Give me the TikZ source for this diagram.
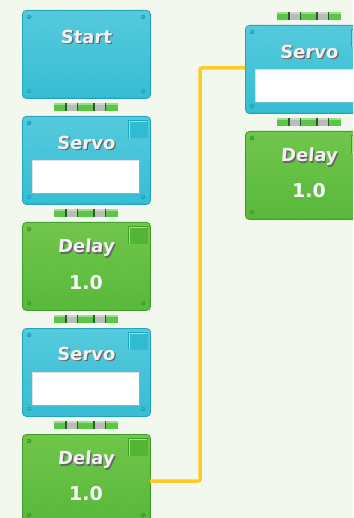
\documentclass[tikz,border=0pt]{standalone}
\usepackage{fontspec}
\newfontfamily\blockfont[FakeSlant=0.08]{DejaVu Sans Bold}
\newfontfamily\numfont{DejaVu Sans Bold}
\usetikzlibrary{calc,patterns}
\definecolor{bg}{HTML}{F3F8EE}
\definecolor{cyM}{HTML}{2FBBD2}
\definecolor{cyL}{HTML}{4EC8DC}
\definecolor{cyD}{HTML}{1FA6BC}
\definecolor{grM}{HTML}{52B634}
\definecolor{grL}{HTML}{6CC444}
\definecolor{grD}{HTML}{3E9E26}
\definecolor{wire}{HTML}{FFC928}
\definecolor{cnG}{HTML}{5CC548}
\definecolor{cnD}{HTML}{2A5A2A}
\definecolor{cnS}{HTML}{B9BDB8}
\tikzset{
  blk/.style={draw=#1D, line width=0.9pt, rounded corners=4pt, top color=#1L, bottom color=#1M,
    minimum width=128pt, minimum height=88pt, anchor=north west, inner sep=0pt},
  conn/.style={minimum width=64pt, minimum height=8pt, inner sep=0pt, fill=cnG, draw=none},
  wireline/.style={draw=wire, line width=3.5pt, rounded corners=2pt},
  lbl/.style={font=\blockfont\fontsize{18}{18}\selectfont, text=white!90!gray, inner sep=0pt},
  lblsh/.style={font=\blockfont\fontsize{18}{18}\selectfont, text=black!60, inner sep=0pt},
  num/.style={font=\numfont\fontsize{19}{19}\selectfont, text=white!97!gray, inner sep=0pt},
}
% decorations of a block: #1 node name, #2 colour prefix, #3 1 if it has a square
\newcommand\blkdeco[3]{%
  \begin{scope}[shift={(#1.north west)}]
    \fill[pattern=north east lines, pattern color=white, opacity=0.12] (1,1) rectangle (127,87);
    \foreach \px/\py in {7/7,121/7,7/81,121/81}{
      \fill[#2D] (\px,\py) circle (2.3pt);
      \fill[#2L] (\px-0.5,\py-0.5) circle (0.9pt);}
    \ifnum#3=1
      \fill[#2D] (106,4) rectangle (126,22);
      \fill[#2M] (107.5,5.5) rectangle (126,22);
      \draw[#2L!60!white, line width=0.9pt] (107,22) -- (107,5) -- (125,5);
    \fi
  \end{scope}}
\newcommand\whitefield[1]{%
  \begin{scope}[shift={(#1.north west)}]
    \fill[white] (10,44) rectangle (117,77);
    \draw[cyD!70, line width=0.8pt] (10,77) -- (117,77) -- (117,44);
    \draw[gray!25, line width=0.6pt] (10,77) -- (10,44) -- (117,44);
  \end{scope}}
\newcommand\conndeco[1]{%
  \begin{scope}[shift={(#1.north west)}]
    \fill[cnG!60!white] (0,0) rectangle (64,2);
    \fill[cnD] (11.5,0) rectangle (13,8);
    \fill[cnS] (13,0) rectangle (23,8);
    \fill[cnD] (23,0) rectangle (24.5,8);
    \fill[cnD] (39.5,0) rectangle (41,8);
    \fill[cnS] (41,0) rectangle (51,8);
    \fill[cnD] (51,0) rectangle (52.5,8);
    \fill[white, opacity=0.35] (13,0) rectangle (23,2.5);
    \fill[white, opacity=0.35] (41,0) rectangle (51,2.5);
  \end{scope}}
\newcommand\shtext[3]{% #1 name, #2 position, #3 text
  \node[lblsh] at ($#2+(1.2,1.2)$) {#3};
  \node[lbl] (#1) at #2 {#3};}
\begin{document}
\begin{tikzpicture}[x=1pt,y=-1pt]
\useasboundingbox (0,0) rectangle (353,518);
\fill[bg] (0,0) rectangle (353,518);
\clip (0,0) rectangle (353,518);

% blocks
\node[blk=cy] (start) at (22,10) {};
\node[blk=cy] (s1) at (22,116) {};
\node[blk=gr] (d1) at (22,222) {};
\node[blk=cy] (s2) at (22,328) {};
\node[blk=gr] (d2) at (22,434) {};
\node[blk=cy] (s3) at (245,25) {};
\node[blk=gr] (d3) at (245,131) {};

% wire
\draw[wireline] ($(d2.north west)+(128,47)$) -- (200,481) -- (200,68) -- ($(s3.north west)+(0,43)$);

% connectors
\node[conn] (c1) at (86,107) {};
\node[conn] (c2) at (86,213) {};
\node[conn] (c3) at (86,319) {};
\node[conn] (c4) at (86,425) {};
\node[conn] (c5) at (309,16) {};
\node[conn] (c6) at (309,122) {};
\foreach \c in {c1,c2,c3,c4,c5,c6}{\conndeco{\c}}

\blkdeco{start}{cy}{0}
\blkdeco{s1}{cy}{1}
\blkdeco{d1}{gr}{1}
\blkdeco{s2}{cy}{1}
\blkdeco{d2}{gr}{1}
\blkdeco{s3}{cy}{1}
\blkdeco{d3}{gr}{1}
\whitefield{s1}
\whitefield{s2}
\whitefield{s3}

% labels
\shtext{tstart}{(86,37)}{Start}
\shtext{ts1}{(86,143)}{Servo}
\shtext{td1}{(86,248)}{Delay}
\node[num] (n1) at (86,283) {1.0};
\shtext{ts2}{(86,354)}{Servo}
\shtext{td2}{(86,460)}{Delay}
\node[num] (n2) at (86,494) {1.0};
\shtext{ts3}{(309,52)}{Servo}
\shtext{td3}{(309,157)}{Delay}
\node[num] (n3) at (309,191) {1.0};
\end{tikzpicture}
\end{document}
